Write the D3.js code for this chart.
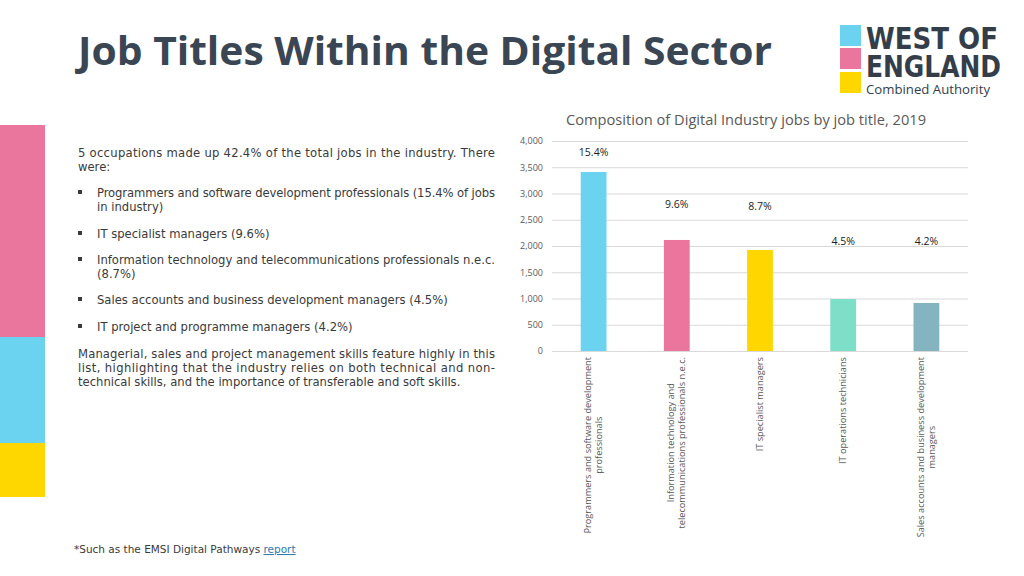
<!DOCTYPE html>
<html><head><meta charset="utf-8">
<script src="https://cdn.jsdelivr.net/npm/d3@7"></script>
<style>body{margin:0;background:#fff;} svg{display:block;}</style>
</head><body>
<svg id="c" width="1024" height="576"></svg>
<script>
const categories = [
  ["Programmers and software development", "professionals"],
  ["Information technology and", "telecommunications professionals n.e.c."],
  ["IT specialist managers"],
  ["IT operations technicians"],
  ["Sales accounts and business development", "managers"]
];
const jobs = [3410, 2115, 1925, 990, 915];
const shareLabels = ["15.4%", "9.6%", "8.7%", "4.5%", "4.2%"];
const shareLabelAt = [3800, 2800, 2760, 2100, 2100];
const yTicks = [0, 500, 1000, 1500, 2000, 2500, 3000, 3500, 4000];
const barColors = ["#6bd3f0", "#ea769d", "#ffd700", "#7edfc9", "#85b4c1"];

(function(){
const svg = d3.select("#c");

// side colour blocks
const side = [["#ea769d",125,337],["#6bd3f0",337,443],["#ffd700",443,497]];
svg.selectAll("rect.side").data(side).join("rect").attr("class","side").attr("x",0).attr("width",45)
  .attr("y",d=>d[1]).attr("height",d=>d[2]-d[1]).attr("fill",d=>d[0]);

// title
svg.append("text").attr("x",78).attr("y",65).attr("font-family","'Open Sans',sans-serif").attr("font-weight","bold")
  .attr("font-size",40).attr("fill","#3a4653").attr("textLength",694).attr("lengthAdjust","spacingAndGlyphs")
  .text("Job Titles Within the Digital Sector");

// logo
const logo = [["#6bd3f0",25],["#ea769d",48],["#ffd700",72]];
svg.selectAll("rect.logo").data(logo).join("rect").attr("class","logo").attr("x",840).attr("width",21)
  .attr("y",d=>d[1]).attr("height",21).attr("fill",d=>d[0]);
const lf = "'Liberation Sans Narrow','DejaVu Sans Condensed',sans-serif";
svg.append("text").attr("x",866).attr("y",49).attr("font-family",lf)
  .attr("font-weight","bold").attr("font-size",31).attr("fill","#333e4a").attr("textLength",132).attr("lengthAdjust","spacingAndGlyphs").text("WEST OF");
svg.append("text").attr("x",866).attr("y",77).attr("font-family",lf)
  .attr("font-weight","bold").attr("font-size",31).attr("fill","#333e4a").attr("textLength",135).attr("lengthAdjust","spacingAndGlyphs").text("ENGLAND");
svg.append("text").attr("x",866).attr("y",94).attr("font-family","'Open Sans',sans-serif")
  .attr("font-size",12.5).attr("fill","#333e4a").attr("textLength",124).attr("lengthAdjust","spacingAndGlyphs").text("Combined Authority");

// body text
const bodyFont = "'DejaVu Sans', Verdana, sans-serif";
const lines = [
  {t:"5 occupations made up 42.4% of the total jobs in the industry. There", x:78, y:157, w:417},
  {t:"were:", x:78, y:171},
  {t:"Programmers and software development professionals (15.4% of jobs", x:97, y:197, w:398, b:true},
  {t:"in industry)", x:97, y:211},
  {t:"IT specialist managers (9.6%)", x:97, y:238, b:true},
  {t:"Information technology and telecommunications professionals n.e.c.", x:97, y:264, w:398, b:true},
  {t:"(8.7%)", x:97, y:278},
  {t:"Sales accounts and business development managers (4.5%)", x:97, y:304, b:true},
  {t:"IT project and programme managers (4.2%)", x:97, y:331, b:true},
  {t:"Managerial, sales and project management skills feature highly in this", x:78, y:358, w:417},
  {t:"list, highlighting that the industry relies on both technical and non-", x:78, y:372, w:417},
  {t:"technical skills, and the importance of transferable and soft skills.", x:78, y:386}
];
const bg = svg.append("g").attr("font-family",bodyFont).attr("font-size",11.6).attr("fill","#3a3a3a");
lines.forEach(l=>{
  const t = bg.append("text").attr("x",l.x).attr("y",l.y).text(l.t);
  if(l.w) t.attr("textLength",l.w).attr("lengthAdjust","spacing");
  if(l.b) bg.append("rect").attr("x",78).attr("y",l.y-7).attr("width",4).attr("height",4).attr("fill","#3a3a3a");
});

// footer
const ft = svg.append("text").attr("x",74).attr("y",553).attr("font-family",bodyFont).attr("font-size",10.5).attr("fill","#3a3a3a");
ft.append("tspan").text("*Such as the EMSI Digital Pathways ");
ft.append("tspan").attr("fill","#2b7bb0").attr("text-decoration","underline").text("report");

// chart
const pL = 552, pR = 968, pT = 141, pB = 351;
const x = d3.scaleBand().domain(d3.range(categories.length)).range([pL,pR]).paddingInner(0.69).paddingOuter(0.345);
const y = d3.scaleLinear().domain([0,4000]).range([pB,pT]);

svg.append("text").attr("x",746).attr("y",125).attr("text-anchor","middle")
  .attr("font-family","'Open Sans',sans-serif").attr("font-size",14.5).attr("fill","#595959")
  .attr("textLength",360).attr("lengthAdjust","spacingAndGlyphs")
  .text("Composition of Digital Industry jobs by job title, 2019");

const yAxis = svg.append("g").attr("transform",`translate(${pL},0)`)
  .call(d3.axisLeft(y).tickValues(yTicks).tickSize(-(pR-pL)).tickFormat(d3.format(",")));
yAxis.select(".domain").remove();
yAxis.selectAll(".tick line").attr("stroke","#d9d9d9");
yAxis.selectAll(".tick text").attr("x",-9).attr("font-family","'Open Sans',sans-serif").attr("font-size",9).attr("fill","#595959");

svg.selectAll("rect.bar").data(jobs).join("rect").attr("class","bar")
  .attr("x",(d,i)=>x(i)).attr("width",x.bandwidth()).attr("y",d=>y(d)).attr("height",d=>y(0)-y(d))
  .attr("fill",(d,i)=>barColors[i]);

svg.selectAll("text.share").data(shareLabels).join("text").attr("class","share")
  .attr("x",(d,i)=>x(i)+x.bandwidth()/2).attr("y",(d,i)=>y(shareLabelAt[i])+4).attr("text-anchor","middle")
  .attr("font-family","'Open Sans',sans-serif").attr("font-size",10.5).attr("fill","#222").text(d=>d);

// category labels rotated, line ends aligned just below axis
const cg = svg.append("g").attr("font-family","'Open Sans',sans-serif").attr("font-size",9.2).attr("fill","#595959");
categories.forEach((c,i)=>{
  const cx = x(i)+x.bandwidth()/2;
  const n = c.length;
  const t = cg.append("text").attr("transform",`translate(${cx},357) rotate(-90)`);
  c.forEach((line,j)=>{
    t.append("tspan").attr("dy", j===0 ? (-(n-1)*11/2+3)+"px" : "11px").text(line);
  });
  let maxW = 0;
  t.selectAll("tspan").each(function(){ maxW = Math.max(maxW, this.getComputedTextLength()); });
  t.selectAll("tspan").each(function(){ const w=this.getComputedTextLength(); d3.select(this).attr("x", -maxW + (maxW-w)/2); });
});
})();
</script>
</body></html>
